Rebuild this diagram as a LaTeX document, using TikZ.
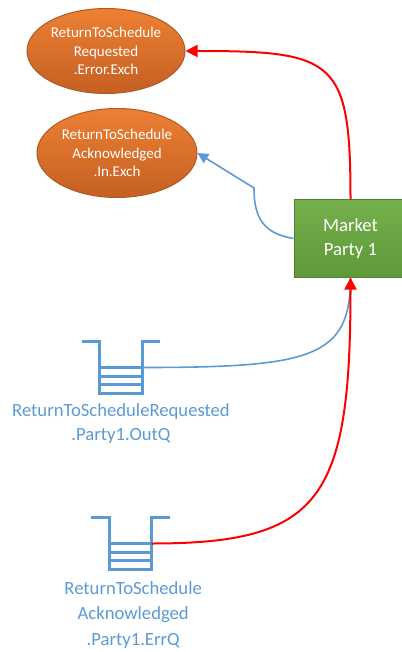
\documentclass[tikz,border=0pt]{standalone}
\usepackage{fontspec}
\setmainfont{Carlito}
\usepackage{tikz}
\usetikzlibrary{arrows.meta, shapes.geometric, positioning, calc}
\definecolor{qblue}{RGB}{91,155,213}
\definecolor{errred}{RGB}{255,0,0}
\definecolor{orangetop}{RGB}{236,128,52}
\definecolor{orangebot}{RGB}{197,96,34}
\definecolor{orangeline}{RGB}{174,90,33}
\definecolor{greentop}{RGB}{116,176,75}
\definecolor{greenbot}{RGB}{94,153,58}
\definecolor{greenline}{RGB}{80,126,50}

\begin{document}
\begin{tikzpicture}[x=0.75pt,y=-0.75pt,
        msgstate/.style={ellipse,draw=orangeline,line width=0.75pt,top color=orangetop,bottom color=orangebot,
            text=white,align=center,inner sep=0pt,font=\fontsize{11.25}{14}\selectfont},
        party/.style={rectangle,draw=greenline,line width=0.75pt,top color=greentop,bottom color=greenbot,
            text=white,align=center,minimum width=84.75pt,minimum height=57.75pt,font=\fontsize{14}{18}\selectfont},
        queue/.style={minimum width=31.5pt,minimum height=38.25pt,inner sep=0pt},
        queueline/.style={draw=qblue,line width=2.25pt},
        qlabel/.style={text=qblue,align=center,inner sep=0pt,font=\fontsize{14}{18}\selectfont},
        errline/.style={draw=errred,line width=1.5pt,-{Triangle[length=9pt,width=9pt]}},
        msgline/.style={draw=qblue,line width=1.2pt}]

        \useasboundingbox (0,0) rectangle (401,652);

        % Toestanden van het bericht
        \node[msgstate,minimum width=118.5pt,minimum height=63.75pt] (err) at (106,51) {ReturnToSchedule\\Requested\\.Error.Exch};
        \node[msgstate,minimum width=120pt,minimum height=66.75pt] (ack) at (117,153) {ReturnToSchedule\\Acknowledged\\.In.Exch};

        % Marktpartij
        \node[party] (mp) at (350.5,238.5) {Market\\Party 1};

        % Wachtrij OutQ
        \node[queue] (qout) at (121,367.5) {};
        \draw[queueline] (qout.north west) ++(-18,0) -- (qout.north west) -- (qout.south west) -- (qout.south east) -- (qout.north east) -- ++(18,0);
        \draw[queueline] (qout.west) -- (qout.east);
        \draw[queueline] ($(qout.west)!1/3!(qout.south west)$) -- ($(qout.east)!1/3!(qout.south east)$);
        \draw[queueline] ($(qout.west)!2/3!(qout.south west)$) -- ($(qout.east)!2/3!(qout.south east)$);
        \node[qlabel,below=7.5pt of qout] (qoutlabel) {ReturnToScheduleRequested\\.Party1.OutQ};

        % Wachtrij ErrQ
        \node[queue,minimum width=30.75pt] (qerr) at (130.5,543.5) {};
        \draw[queueline] (qerr.north west) ++(-19,0) -- (qerr.north west) -- (qerr.south west) -- (qerr.south east) -- (qerr.north east) -- ++(19,0);
        \draw[queueline] (qerr.west) -- (qerr.east);
        \draw[queueline] ($(qerr.west)!1/3!(qerr.south west)$) -- ($(qerr.east)!1/3!(qerr.south east)$);
        \draw[queueline] ($(qerr.west)!2/3!(qerr.south west)$) -- ($(qerr.east)!2/3!(qerr.south east)$);
        \node[qlabel,below=9pt of qerr,xshift=2pt,font=\fontsize{14}{19}\selectfont] (qerrlabel) {ReturnToSchedule\\Acknowledged\\.Party1.ErrQ};

        % Verbindingen
        \coordinate (bend) at (254,188);
        \draw[msgline,-{Triangle[length=8pt,width=8pt]}] (mp.west) .. controls +(-30,-5) and +(0,30) .. (bend) -- (ack.east);
        \draw[errline] (mp.north) .. controls +(0,-140) and +(150,0) .. (err.east);
        \draw[msgline] (qout.east) .. controls +(170,0) and +(0,80) .. (mp.south);
        \draw[errline] (qerr.east) .. controls +(169,0) and +(0,223) .. (mp.south);

\end{tikzpicture}
\end{document}
